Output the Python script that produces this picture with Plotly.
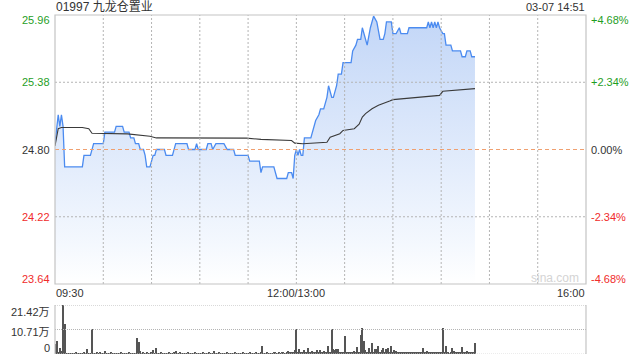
import plotly.graph_objects as go

# ---------------- data ----------------
# trading minutes since 09:30 (lunch break 12:00-13:00 removed)
price_min = [0, 2, 3, 4, 5, 6, 17, 18, 22, 23, 24, 30, 31, 37, 38, 42, 43, 46, 47, 49,
             50, 52, 53, 55, 56, 57, 59, 60, 61, 62, 63, 68, 69, 73, 75, 82, 83, 87, 88, 89,
             94, 95, 97, 98, 100, 105, 107, 111, 112, 120, 121, 127, 128, 129, 136, 138, 144, 145, 147, 148,
             149, 150, 151, 152, 153, 154, 155, 159, 160, 161, 162, 164, 165, 167, 168, 169, 170, 172, 173, 175,
             176, 178, 179, 184, 185, 187, 188, 190, 191, 192, 194, 196, 198, 200, 202, 204, 205, 206, 209, 210,
             212, 214, 215, 219, 220, 231, 232, 233, 234, 235, 236, 237, 238, 239, 241, 242, 243, 246, 247, 252,
             253, 255, 256, 258, 259, 261]
price_val = [24.85, 25.10, 25.00, 25.10, 25.00, 24.65, 24.65, 24.75, 24.75, 24.80, 24.85, 24.85, 24.95, 24.95, 25.00, 25.00, 24.95, 24.95, 24.90, 24.90,
             24.85, 24.85, 24.80, 24.80, 24.75, 24.65, 24.65, 24.70, 24.75, 24.75, 24.80, 24.80, 24.75, 24.75, 24.85, 24.85, 24.80, 24.80, 24.85, 24.80,
             24.80, 24.85, 24.85, 24.80, 24.85, 24.85, 24.80, 24.80, 24.75, 24.75, 24.70, 24.70, 24.60, 24.65, 24.65, 24.55, 24.55, 24.60, 24.60, 24.55,
             24.75, 24.80, 24.75, 24.80, 24.75, 24.75, 24.90, 24.90, 24.95, 25.00, 25.05, 25.10, 25.15, 25.15, 25.20, 25.25, 25.35, 25.25, 25.25, 25.35,
             25.45, 25.45, 25.55, 25.55, 25.65, 25.70, 25.75, 25.75, 25.85, 25.80, 25.70, 25.85, 25.95, 25.90, 25.75, 25.75, 25.80, 25.90, 25.90, 25.80,
             25.80, 25.85, 25.80, 25.80, 25.85, 25.85, 25.90, 25.85, 25.90, 25.85, 25.90, 25.85, 25.90, 25.85, 25.80, 25.80, 25.70, 25.70, 25.65, 25.65,
             25.60, 25.60, 25.65, 25.65, 25.60, 25.60]

avg_min = [0, 2, 4, 17, 21, 23, 45, 59, 63, 78, 119, 128, 147, 149, 154, 169, 171, 177, 179,
           186, 189, 191, 193, 197, 201, 208, 210, 239, 241, 261]
avg_val = [24.83, 24.98, 24.99, 24.99, 24.98, 24.94, 24.935, 24.915, 24.90, 24.90, 24.898, 24.887, 24.878, 24.855, 24.85, 24.863, 24.906, 24.936, 24.964,
           24.979, 25.018, 25.08, 25.109, 25.152, 25.181, 25.218, 25.23, 25.267, 25.302, 25.325]

# volume per minute (unit: 万股), 09:30 .. 14:51
volume_wan = [
    4.5, 5.8, 1.0, 2.6, 1.2, 21.42, 13.2, 0.4, 0.3, 0.4,
    0.3, 0.4, 0.3, 0.5, 0.3, 0.4, 0.3, 0.4, 0.5, 0.3,
    2.3, 0.4, 0.3, 10.8, 0.4, 0.3, 0.5, 0.4, 0.7, 0.3,
    0.4, 1.4, 0.3, 0.4, 0.3, 0.5, 0.3, 0.4, 0.3, 0.4,
    0.3, 0.5, 0.4, 0.3, 0.4, 0.3, 0.5, 0.3, 0.4, 0.3,
    0.4, 7.1, 5.1, 1.4, 0.4, 0.5, 0.3, 0.7, 0.4, 0.3,
    0.5, 1.9, 0.4, 2.75, 0.4, 0.3, 0.5, 0.4, 0.3, 0.4,
    0.3, 0.5, 0.4, 0.3, 0.6, 1.4, 0.4, 0.3, 0.5, 0.3,
    0.4, 0.3, 0.4, 0.5, 0.3, 0.4, 0.3, 0.5, 0.4, 0.3,
    0.4, 0.3, 0.5, 0.4, 0.3, 0.4, 0.5, 0.3, 0.4, 1.4,
    0.4, 0.3, 0.5, 0.4, 0.3, 0.4, 0.3, 0.5, 0.4, 0.3,
    0.4, 0.3, 0.5, 0.3, 0.4, 0.3, 0.4, 0.5, 0.3, 0.4,
    0.3, 0.5, 0.4, 0.3, 0.4, 0.5, 0.3, 0.4, 0.6, 3.3,
    0.4, 0.3, 0.5, 0.4, 0.3, 0.4, 0.5, 0.6, 0.4, 0.5,
    0.4, 0.6, 0.5, 0.4, 0.7, 1.4, 0.5, 0.6, 0.8, 1.6,
    10.8, 0.6, 2.3, 0.5, 0.7, 1.6, 0.6, 2.75, 0.5, 0.8,
    1.2, 0.6, 0.5, 1.6, 0.7, 1.6, 0.5, 1.2, 0.6, 0.5,
    3.3, 0.7, 10.8, 2.3, 1.9, 2.3, 2.3, 0.6, 0.5, 0.7,
    8.0, 0.6, 0.5, 0.7, 0.6, 0.5, 1.2, 0.6, 2.9, 0.7,
    8.4, 11.3, 5.8, 1.9, 0.8, 2.6, 0.7, 4.8, 1.0, 2.2,
    2.2, 3.5, 0.8, 1.6, 2.6, 0.7, 2.3, 2.6, 0.8, 3.5,
    0.9, 1.9, 1.2, 0.6, 0.8, 0.5, 0.7, 0.9, 0.6, 0.8,
    0.7, 0.9, 0.6, 0.8, 0.7, 0.9, 0.6, 0.8, 0.7, 2.6,
    0.7, 1.2, 0.6, 0.7, 0.8, 0.6, 0.7, 0.8, 0.6, 0.7,
    0.8, 11.3, 0.7, 3.6, 0.5, 0.4, 0.6, 2.6, 1.2, 0.5,
    0.6, 0.5, 0.7, 3.0, 0.6, 0.5, 1.2, 0.6, 0.7, 1.0,
    0.8, 5.0,
]
volume_min = list(range(len(volume_wan)))

prev_close = 24.80
price_ticks = [25.96, 25.38, 24.80, 24.22, 23.64]
pct_ticks = ["+4.68%", "+2.34%", "0.00%", "-2.34%", "-4.68%"]
vol_ticks = [21.42, 10.71, 0]
vol_tick_text = ["21.42万", "10.71万", "0"]
x_tick_pos = [0, 150, 330]
x_tick_text = ["09:30", "12:00/13:00", "16:00"]
grid_minutes = [30, 60, 90, 120, 150, 180, 210, 240, 270, 300]
title_text = "01997 九龙仓置业"
stamp_text = "03-07 14:51"

# ---------------- layout geometry ----------------
W, H = 640, 360
PX_L, PX_R = 55, 586
MAIN_T, MAIN_B = 15, 284
VOL_T, VOL_B = 305, 354

def px_x(p):
    return p / W

def px_y(p):
    return 1 - p / H

GREEN = "#1f9e1f"
RED = "#f02b2b"
DARK = "#333333"
GRID = "#b4b4b4"
BORDER = "#c4c4c4"
FONT = "Liberation Sans, Arial, Noto Sans CJK SC, sans-serif"

fig = go.Figure()

fig.add_trace(go.Scatter(
    x=price_min, y=price_val, mode="lines",
    line=dict(color="#4b8bf0", width=1.3),
    fill="tozeroy",
    fillgradient=dict(type="vertical", start=23.64, stop=25.96,
                      colorscale=[[0, "rgba(255,255,255,1)"], [0.15, "rgba(244,248,254,1)"],
                                  [1, "rgba(194,214,247,1)"]]),
    xaxis="x", yaxis="y", hoverinfo="skip", showlegend=False))

fig.add_trace(go.Scatter(
    x=avg_min, y=avg_val, mode="lines",
    line=dict(color="#3a3a3a", width=1.1),
    xaxis="x", yaxis="y", hoverinfo="skip", showlegend=False))

fig.add_trace(go.Bar(
    x=volume_min, y=volume_wan, width=0.75,
    marker=dict(color="#555555", line=dict(width=0)),
    xaxis="x2", yaxis="y2", hoverinfo="skip", showlegend=False))

shapes = []
# main chart grid (dotted)
for m in grid_minutes:
    shapes.append(dict(type="line", xref="x", yref="paper", x0=m, x1=m,
                       y0=px_y(MAIN_B), y1=px_y(MAIN_T),
                       line=dict(color=GRID, width=1, dash="2px,2px"), layer="above"))
for v in [25.38, 24.22]:
    shapes.append(dict(type="line", xref="paper", yref="y", x0=px_x(PX_L), x1=px_x(PX_R), y0=v, y1=v,
                       line=dict(color=GRID, width=1, dash="2px,2px"), layer="above"))
shapes.append(dict(type="line", xref="paper", yref="y", x0=px_x(PX_L), x1=px_x(PX_R),
                   y0=prev_close, y1=prev_close,
                   line=dict(color="#f0a070", width=1, dash="4px,3px"), layer="above"))
shapes.append(dict(type="rect", xref="paper", yref="paper", x0=px_x(PX_L), x1=px_x(PX_R),
                   y0=px_y(MAIN_B), y1=px_y(MAIN_T),
                   line=dict(color=BORDER, width=1.2), layer="above"))
# volume panel
for v in vol_ticks[:2]:
    shapes.append(dict(type="line", xref="paper", yref="y2", x0=px_x(PX_L), x1=px_x(PX_R), y0=v, y1=v,
                       line=dict(color=GRID, width=1, dash="1px,1px"), layer="above"))
shapes.append(dict(type="line", xref="paper", yref="y2", x0=px_x(PX_L), x1=px_x(PX_R), y0=0, y1=0,
                   line=dict(color="#d8d8d8", width=1, dash="1px,1px"), layer="above"))
for xx in [PX_L, PX_R]:
    shapes.append(dict(type="line", xref="paper", yref="paper", x0=px_x(xx), x1=px_x(xx),
                       y0=px_y(VOL_B), y1=px_y(VOL_T),
                       line=dict(color=BORDER, width=1.2), layer="above"))

annotations = []
lab_font = dict(family=FONT, size=11)
for i, (v, pt) in enumerate(zip(price_ticks, pct_ticks)):
    if v > prev_close + 1e-9:
        col = GREEN
    elif v < prev_close - 1e-9:
        col = RED
    else:
        col = DARK
    if i == 0:
        ya, ys = "top", 2
    elif i == len(price_ticks) - 1:
        ya, ys = "bottom", -2
    else:
        ya, ys = "middle", 0
    annotations.append(dict(text=f"{v:.2f}", xref="paper", yref="y", x=px_x(51), y=v,
                            xanchor="right", yanchor=ya, yshift=ys, showarrow=False,
                            font=dict(lab_font, color=col), borderpad=0))
    annotations.append(dict(text=pt, xref="paper", yref="y", x=px_x(590), y=v,
                            xanchor="left", yanchor=ya, yshift=ys, showarrow=False,
                            font=dict(lab_font, color=col), borderpad=0))

for pos, txt in zip(x_tick_pos, x_tick_text):
    xa = "left" if pos == x_tick_pos[0] else ("right" if pos == x_tick_pos[-1] else "center")
    annotations.append(dict(text=txt, xref="x", yref="paper", x=pos, y=px_y(293),
                            xanchor=xa, yanchor="middle", showarrow=False,
                            font=dict(lab_font, color=DARK), borderpad=0))

for i, (v, txt) in enumerate(zip(vol_ticks, vol_tick_text)):
    ys = {0: -7, 1: -2, 2: 6}[i]
    annotations.append(dict(text=txt, xref="paper", yref="y2", x=px_x(51), y=v,
                            xanchor="right", yanchor="middle", yshift=ys, showarrow=False,
                            font=dict(lab_font, color=DARK), borderpad=0))

annotations.append(dict(text=title_text, xref="paper", yref="paper", x=px_x(55), y=px_y(7),
                        xanchor="left", yanchor="middle", showarrow=False,
                        font=dict(family=FONT, size=12, color=DARK), borderpad=0))
annotations.append(dict(text=stamp_text, xref="paper", yref="paper", x=px_x(586), y=px_y(7),
                        xanchor="right", yanchor="middle", showarrow=False,
                        font=dict(family=FONT, size=11, color=DARK), borderpad=0))
annotations.append(dict(text="sina.com", xref="paper", yref="paper", x=px_x(555), y=px_y(278),
                        xanchor="center", yanchor="middle", showarrow=False,
                        font=dict(family=FONT, size=12, color="#d4d4d4"), borderpad=0))

axis_common = dict(showgrid=False, zeroline=False, showticklabels=False, ticks="",
                   showline=False, fixedrange=True)

fig.update_layout(
    width=W, height=H, autosize=False,
    margin=dict(l=0, r=0, t=0, b=0, pad=0),
    paper_bgcolor="white", plot_bgcolor="white",
    xaxis=dict(axis_common, domain=[px_x(PX_L), px_x(PX_R)], range=[0, 330], anchor="y"),
    yaxis=dict(axis_common, domain=[px_y(MAIN_B), px_y(MAIN_T)], range=[23.64, 25.96], anchor="x"),
    xaxis2=dict(axis_common, domain=[px_x(PX_L), px_x(PX_R)], range=[0, 330], anchor="y2"),
    yaxis2=dict(axis_common, domain=[px_y(VOL_B), px_y(VOL_T)], range=[0, 21.42], anchor="x2"),
    shapes=shapes, annotations=annotations,
    bargap=0, showlegend=False,
    font=dict(family=FONT),
)

fig.write_html("out.html", config=dict(displayModeBar=False))
